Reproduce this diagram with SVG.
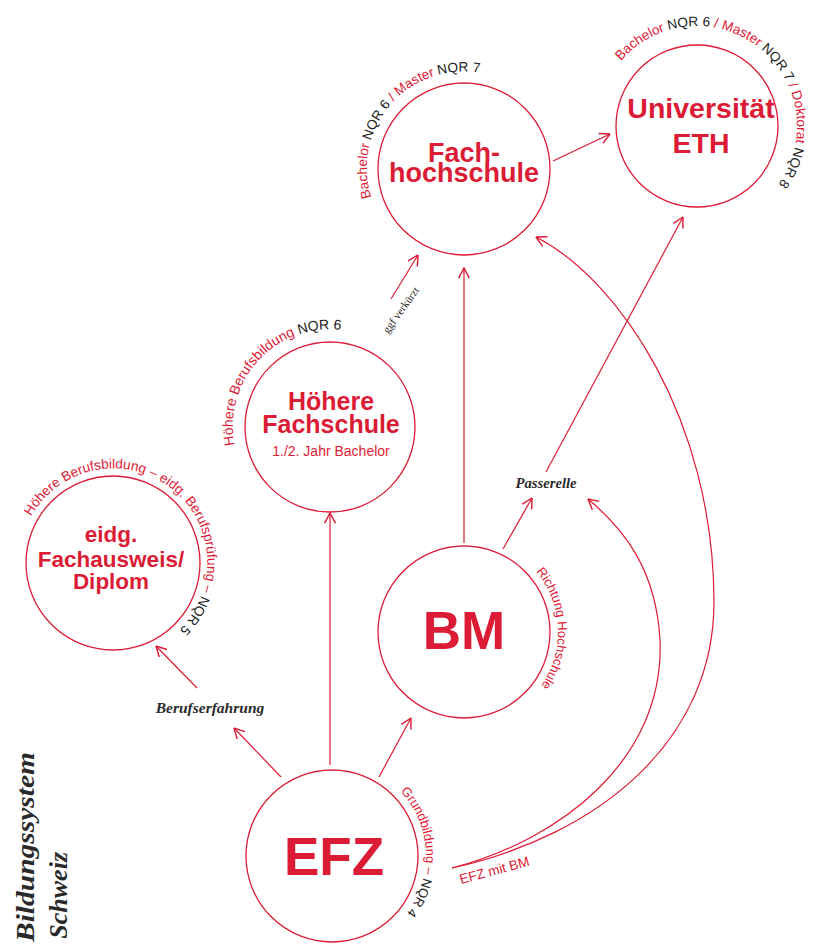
<svg xmlns="http://www.w3.org/2000/svg" width="815" height="944" viewBox="0 0 815 944">
<defs>
<style>
.c{fill:none;stroke:#DC1B35;stroke-width:1.3}
.l{fill:none;stroke:#DC1B35;stroke-width:1.2}
.t{font-family:"Liberation Sans",Arial,sans-serif;font-weight:bold;fill:#DC1B35;text-anchor:middle}
.a{font-family:"Liberation Sans",Arial,sans-serif;font-size:13px;fill:#DC1B35}
.b{font-size:13.6px}
.k{fill:#222}
.s{font-family:"Liberation Serif","Times New Roman",serif;font-weight:bold;font-style:italic;fill:#2a2a2a}
</style>
<marker id="ar" viewBox="0 0 10 10" refX="9.5" refY="5" markerWidth="12" markerHeight="12" markerUnits="userSpaceOnUse" orient="auto">
<path d="M1,0.5 L9.5,5 L1,9.5" fill="none" stroke="#DC1B35" stroke-width="1.2"/>
</marker>
<path id="pFH" d="M371.24,197.36 A97,97 0 1 1 556.76,140.64 A97,97 0 1 1 371.24,197.36"/>
<path id="pETH" d="M620.96,61.05 A100,100 0 1 1 773.04,190.95 A100,100 0 1 1 620.96,61.05"/>
<path id="pHF" d="M234.69,445.01 A97,97 0 1 1 425.31,408.99 A97,97 0 1 1 234.69,445.01"/>
<path id="pEI" d="M31.27,516.57 A94,94 0 1 1 194.73,609.43 A94,94 0 1 1 31.27,516.57"/>
<path id="pBM" d="M536.01,571.58 A94,94 0 1 1 391.99,692.42 A94,94 0 1 1 536.01,571.58"/>
<path id="pEFZ" d="M400.43,791.55 A94,94 0 1 1 263.57,920.45 A94,94 0 1 1 400.43,791.55"/>
</defs>
<rect width="815" height="944" fill="#fff"/>

<g id="connectors">
<line class="l" x1="281" y1="777" x2="234" y2="728" marker-end="url(#ar)"/>
<line class="l" x1="197" y1="688" x2="156" y2="646" marker-end="url(#ar)"/>
<line class="l" x1="330" y1="765" x2="330" y2="513" marker-end="url(#ar)"/>
<line class="l" x1="379" y1="777" x2="411" y2="718" marker-end="url(#ar)"/>
<line class="l" x1="464" y1="543" x2="464" y2="268" marker-end="url(#ar)"/>
<line class="l" x1="503" y1="549" x2="532" y2="498" marker-end="url(#ar)"/>
<line class="l" x1="546" y1="472" x2="683" y2="217" marker-end="url(#ar)"/>
<line class="l" x1="553" y1="161" x2="610" y2="134" marker-end="url(#ar)"/>
<line class="l" x1="391" y1="299" x2="418" y2="255" marker-end="url(#ar)"/>
<path class="l" d="M452,868 C560,840 665,760 660,640 C656,570 625,530 588,499" marker-end="url(#ar)"/>
<path class="l" d="M452,868 C600,835 715,740 714,600 C713,420 620,280 536,237" marker-end="url(#ar)"/>
<text class="s" font-size="15.5" x="210" y="713" text-anchor="middle">Berufserfahrung</text>
<text class="s" font-size="14.7" x="546" y="488" text-anchor="middle">Passerelle</text>
<text font-family="Liberation Serif,serif" font-size="11" fill="#2a2a2a" transform="translate(388,334) rotate(-54)">ggf verkürzt</text>
<text class="a" font-size="13.6" transform="translate(461,884) rotate(-15)" style="font-size:13.6px">EFZ mit BM</text>
</g>

<g id="fachhochschule">
<circle class="c" cx="464" cy="169" r="86"/>
<text class="t" font-size="27" x="464" y="162">Fach-</text>
<text class="t" font-size="27" x="464" y="182">hochschule</text>
<text class="a b"><textPath href="#pFH">Bachelor <tspan class="k">NQR 6</tspan> / Master <tspan class="k">NQR 7</tspan></textPath></text>
</g>

<g id="eth">
<circle class="c" cx="697" cy="126" r="81"/>
<text class="t" font-size="28.5" x="701" y="118">Universität</text>
<text class="t" font-size="28.5" x="701" y="153">ETH</text>
<text class="a b"><textPath href="#pETH">Bachelor <tspan class="k">NQR 6</tspan> / Master <tspan class="k">NQR 7</tspan> / Doktorat <tspan class="k">NQR 8</tspan></textPath></text>
</g>

<g id="hoehere-fachschule">
<circle class="c" cx="330" cy="427" r="85"/>
<text class="t" font-size="25" x="331" y="410">Höhere</text>
<text class="t" font-size="25" x="331" y="433">Fachschule</text>
<text class="t" font-size="14" x="331" y="456" style="font-weight:normal">1./2. Jahr Bachelor</text>
<text class="a" style="font-size:14px"><textPath href="#pHF">Höhere Berufsbildung <tspan class="k">NQR 6</tspan></textPath></text>
</g>

<g id="fachausweis">
<circle class="c" cx="113" cy="563" r="87"/>
<text class="t" font-size="22.5" x="111" y="542">eidg.</text>
<text class="t" font-size="22.5" x="111" y="567">Fachausweis/</text>
<text class="t" font-size="22.5" x="111" y="589">Diplom</text>
<text class="a b"><textPath href="#pEI">Höhere Berufsbildung – eidg. Berufsprüfung – <tspan class="k">NQR 5</tspan></textPath></text>
</g>

<g id="bm">
<circle class="c" cx="464" cy="632" r="86"/>
<text class="t" font-size="53" x="464" y="649">BM</text>
<text class="a"><textPath href="#pBM">Richtung Hochschule</textPath></text>
</g>

<g id="efz">
<circle class="c" cx="332" cy="856" r="86"/>
<text class="t" font-size="53" x="334" y="875">EFZ</text>
<text class="a"><textPath href="#pEFZ">Grundbildung – <tspan class="k">NQR 4</tspan></textPath></text>
</g>

<g id="title">
<text class="s" font-size="26" text-anchor="end" textLength="190" lengthAdjust="spacingAndGlyphs" transform="translate(34,752) rotate(-90)">Bildungssystem</text>
<text class="s" font-size="26" text-anchor="end" transform="translate(67,852) rotate(-90)">Schweiz</text>
</g>
</svg>
